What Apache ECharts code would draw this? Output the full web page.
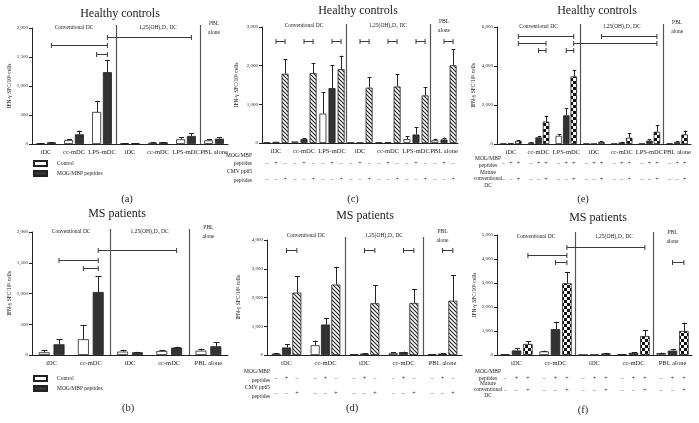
<!DOCTYPE html>
<html><head><meta charset="utf-8">
<script src="https://cdn.jsdelivr.net/npm/echarts@6/dist/echarts.min.js"></script>
<style>html,body{margin:0;padding:0;background:#fff}#c{width:699px;height:423px}</style>
</head><body><div id="c"></div><script>
const FONT = '"Liberation Serif","DejaVu Serif",serif';
const INK = '#222';

// ---------- categories / labels ----------
const catsSeven = ['iDC','cc-mDC','LPS-mDC','iDC','cc-mDC','LPS-mDC','PBL alone'];
const catsFive = ['iDC','cc-mDC','iDC','cc-mDC','PBL alone'];
const groupNames = ['Conventional DC','1,25(OH)₂D₃ DC','PBL\nalone'];
const groupsSeven = [[0,2,0],[3,5,1],[6,6,2]];
const groupsFive = [[0,1,0],[2,3,1],[4,4,2]];
const yName = 'IFN-γ SFC/10⁶ cells';
const legendNames = ['Control','MOG/MBP peptides'];
const signsMogCmv = ['−','+','−'];
const signsCmv = ['−','−','+'];
const signsMogMat = ['−','+','+'];
const signsMature = ['−','−','+'];

// ---------- (a) Healthy controls ----------
const aControl    = [12, 69, 553, 12, 23, 81, 63];
const aControlErr = [16, 81, 743, 15, 27, 115, 81];
const aMog        = [29, 167, 1239, 12, 29, 138, 92];
const aMogErr     = [36, 230, 1452, 16, 34, 184, 121];
const aBrackets   = [[0,1,2,1,1700],[2,0,2,1,1560],[2,1,5,1,1840]];

// ---------- (b) MS patients ----------
const bControl    = [44, 256, 55, 65, 70];
const bControlErr = [76, 490, 87, 82, 104];
const bMog        = [174, 1025, 44, 120, 142];
const bMogErr     = [256, 1280, 52, 136, 207];
const bBrackets   = [[1,1,3,1,1710],[0,1,1,1,1545],[1,0,1,1,1415]];

// ---------- (c) Healthy controls, CMV ----------
const cControl    = [15, 40, 760, 10, 15, 100, 70];
const cControlErr = [null, null, 1310, null, null, 170, 110];
const cMog        = [30, 100, 1420, 10, 20, 220, 90];
const cMogErr     = [null, 120, 2020, null, null, 410, 140];
const cCmv        = [1790, 1810, 1910, 1430, 1460, 1230, 2010];
const cCmvErr     = [2170, 2070, 2260, 1700, 1780, 1440, 2420];
const cBrackets   = [[0,1,0,2,2650],[1,1,1,2,2650],[2,1,2,2,2650],[3,1,3,2,2650],[4,1,4,2,2650],[5,1,5,2,2650],[6,1,6,2,2650]];

// ---------- (d) MS patients, CMV ----------
const dControl    = [50, 340, 30, 70, 30];
const dControlErr = [70, 500, null, 90, null];
const dMog        = [260, 1060, 50, 100, 50];
const dMogErr     = [380, 1290, 60, 120, 60];
const dCmv        = [2170, 2450, 1800, 1810, 1890];
const dCmvErr     = [2740, 3070, 2420, 2300, 2780];
const dBrackets   = [[0,1,0,2,3650],[2,1,2,2,3650],[3,1,3,2,3650],[4,1,4,2,3650]];

// ---------- (e) Healthy controls, mature conventional DC ----------
const eControl    = [20, 70, 420, 20, 20, 20, 30];
const eControlErr = [null, 90, 500, null, null, null, null];
const eMog        = [40, 340, 1470, 10, 80, 170, 90];
const eMogErr     = [null, 420, 1830, null, 120, 250, 130];
const eMature     = [160, 1150, 3470, 100, 320, 630, 490];
const eMatureErr  = [200, 1450, 3790, 150, 540, 950, 690];
const eBrackets   = [[0,2,2,2,5520],[0,2,1,2,5180],[1,1,1,2,4800],[2,1,2,2,4800],[2,2,5,2,5180],[3,2,5,2,5520]];

// ---------- (f) MS patients, mature conventional DC ----------
const fControl    = [30, 150, 10, 40, 80];
const fControlErr = [null, 180, null, null, 100];
const fMog        = [190, 1080, 10, 90, 180];
const fMogErr     = [280, 1390, null, 110, 240];
const fMature     = [460, 2990, 70, 790, 1000];
const fMatureErr  = [570, 3460, 90, 1030, 1350];
const fBrackets   = [[0,2,1,2,4160],[1,1,1,2,3870],[1,2,3,2,4500],[4,1,4,2,3870]];

// ---------- patterns ----------
function hatch(){
  const c = document.createElement('canvas'); c.width = 4; c.height = 4;
  const x = c.getContext('2d');
  x.fillStyle = '#fff'; x.fillRect(0,0,4,4);
  x.strokeStyle = '#222'; x.lineWidth = 1.1;
  x.beginPath();
  x.moveTo(-1,-1); x.lineTo(5,5);
  x.moveTo(-1,3); x.lineTo(1,5);
  x.moveTo(3,-1); x.lineTo(5,1);
  x.stroke();
  return {image: c, repeat: 'repeat'};
}
function checker(){
  const s = 3;
  const c = document.createElement('canvas'); c.width = 2*s; c.height = 2*s;
  const x = c.getContext('2d');
  x.fillStyle = '#fff'; x.fillRect(0,0,2*s,2*s);
  x.fillStyle = '#111'; x.fillRect(0,0,s,s); x.fillRect(s,s,s,s);
  return {image: c, repeat: 'repeat'};
}
const WHITE = '#ffffff', DARK = '#333333';

const option = {animation:false, backgroundColor:'#fff', grid:[], xAxis:[], yAxis:[], series:[], legend:[], graphic:[]};

function off(j, n, w, g){ return (j - (n-1)/2) * w * (1+g); }

function addPanel(k, p){
  option.grid.push({left:p.grid[0], top:p.grid[1], width:p.grid[2], height:p.grid[3]});
  option.xAxis.push({type:'category', gridIndex:k, data:p.cats,
    axisLine:{lineStyle:{color:INK, width:1}},
    axisTick:{alignWithLabel:true, length:3, lineStyle:{color:INK}},
    axisLabel:{fontSize:6.5, fontFamily:FONT, color:INK, margin:5, interval:0}});
  option.yAxis.push({type:'value', gridIndex:k, min:0, max:p.max, interval:p.step,
    axisLine:{show:true, lineStyle:{color:INK}},
    axisTick:{show:true, length:3, lineStyle:{color:INK}},
    splitLine:{show:false},
    axisLabel:{fontSize:5, fontFamily:FONT, color:INK, margin:4},
    name:yName, nameLocation:'middle', nameGap:p.nameGap,
    nameTextStyle:{fontSize:5.5, fontFamily:FONT, color:INK}});
  const n = p.vals.length, w = p.w, g = p.g;
  p.vals.forEach((vals, j) => {
    option.series.push({type:'bar', name:p.names[j], xAxisIndex:k, yAxisIndex:k, data:vals,
      barWidth:w, barGap:(g*100)+'%',
      itemStyle:{color:p.fills[j], borderColor:INK, borderWidth:0.8}, z:2});
  });
  // error bars
  const errData = [];
  p.errs.forEach((errs, j) => errs.forEach((e, c) => { if (e != null) errData.push([c, j, p.vals[j][c], e]); }));
  option.series.push({type:'custom', xAxisIndex:k, yAxisIndex:k, data:errData, encode:{x:0, y:3}, z:3, clip:false, silent:true,
    renderItem:(params, api) => {
      const c = api.value(0), j = api.value(1), v = api.value(2), e = api.value(3);
      const p0 = api.coord([c, v]), p1 = api.coord([c, e]);
      const x = Math.round(p0[0] + off(j, n, w, g)) + 0.5;
      const cap = Math.max(3, w*0.55);
      return {type:'group', children:[
        {type:'line', shape:{x1:x, y1:p0[1], x2:x, y2:p1[1]}, style:{stroke:INK, lineWidth:1}},
        {type:'line', shape:{x1:x-cap/2, y1:Math.round(p1[1])+0.5, x2:x+cap/2, y2:Math.round(p1[1])+0.5}, style:{stroke:INK, lineWidth:1}}
      ]};
    }});
  // significance brackets
  option.series.push({type:'custom', xAxisIndex:k, yAxisIndex:k, data:p.brackets, encode:{x:0, y:4}, z:3, clip:false, silent:true,
    renderItem:(params, api) => {
      const c1 = api.value(0), b1 = api.value(1), c2 = api.value(2), b2 = api.value(3), yv = api.value(4);
      const pa = api.coord([c1, yv]), pb = api.coord([c2, yv]);
      const x1 = pa[0] + off(b1, n, w, g), x2 = pb[0] + off(b2, n, w, g);
      const y = Math.round(pa[1]) + 0.5;
      const st = {stroke:'#3a3a3a', lineWidth:1};
      return {type:'group', children:[
        {type:'line', shape:{x1:x1, y1:y, x2:x2, y2:y}, style:st},
        {type:'line', shape:{x1:x1, y1:y-2.5, x2:x1, y2:y+2.5}, style:st},
        {type:'line', shape:{x1:x2, y1:y-2.5, x2:x2, y2:y+2.5}, style:st}
      ]};
    }});
  // group separators
  option.series.push({type:'custom', xAxisIndex:k, yAxisIndex:k, data:p.seps, encode:{x:0, y:1}, z:1, clip:false, silent:true,
    renderItem:(params, api) => {
      const a = api.coord([api.value(0), 0]), b = api.coord([api.value(1), p.max]);
      const x = Math.round((a[0] + b[0]) / 2) + 0.5;
      return {type:'line', shape:{x1:x, y1:b[1]-3, x2:x, y2:a[1]}, style:{stroke:'#555', lineWidth:1.2}};
    }});
  // group labels
  option.series.push({type:'custom', xAxisIndex:k, yAxisIndex:k, data:p.groups, encode:{x:0, y:1}, z:3, clip:false, silent:true,
    renderItem:(params, api) => {
      const a = api.coord([api.value(0), p.max]), b = api.coord([api.value(1), p.max]);
      const t = groupNames[api.value(2)];
      return {type:'text', x:(a[0]+b[0])/2, y:a[1] + p.groupDy,
        style:{text:t, font:'5.5px ' + FONT, fill:INK, align:'center', verticalAlign:'middle',
          textAlign:'center', textVerticalAlign:'middle', lineHeight:9}};
    }});
  // +/- sign rows
  if (p.signs) {
    const sData = [];
    p.cats.forEach((_, c) => p.signs.forEach((row, r) => row.forEach((_, j) => sData.push([c, j, r]))));
    option.series.push({type:'custom', xAxisIndex:k, yAxisIndex:k, data:sData, encode:{x:0, y:1}, z:3, clip:false, silent:true,
      renderItem:(params, api) => {
        const c = api.value(0), j = api.value(1), r = api.value(2);
        const p0 = api.coord([c, 0]);
        return {type:'text', x:p0[0] + off(j, n, w, g), y:p0[1] + p.signDy[r],
          style:{text:p.signs[r][j], font:'6px ' + FONT, fill:INK, align:'center', verticalAlign:'middle',
            textAlign:'center', textVerticalAlign:'middle'}};
      }});
  }
}

const sepSeven = [[2,3],[5,6]];
const sepFive = [[1,2],[3,4]];

addPanel(0, {grid:[32,28,196,116], cats:catsSeven, max:2000, step:500, nameGap:19,
  vals:[aControl, aMog], errs:[aControlErr, aMogErr], names:legendNames, fills:[WHITE, DARK],
  w:9, g:0.2, brackets:aBrackets, seps:sepSeven, groups:groupsSeven, groupDy:0});
addPanel(1, {grid:[32,232,196,123], cats:catsFive, max:2000, step:500, nameGap:18,
  vals:[bControl, bMog], errs:[bControlErr, bMogErr], names:legendNames, fills:[WHITE, DARK],
  w:11, g:0.35, brackets:bBrackets, seps:sepFive, groups:groupsFive, groupDy:0});
addPanel(2, {grid:[262,27,196,116], cats:catsSeven, max:3000, step:1000, nameGap:22,
  vals:[cControl, cMog, cCmv], errs:[cControlErr, cMogErr, cCmvErr], names:['c-Control','c-MOG','c-CMV'], fills:[WHITE, DARK, hatch()],
  w:7, g:0.3, brackets:cBrackets, seps:sepSeven, groups:groupsSeven, groupDy:-1,
  signs:[signsMogCmv, signsCmv], signDy:[20, 36]});
addPanel(3, {grid:[267,240,195,115], cats:catsFive, max:4000, step:1000, nameGap:25,
  vals:[dControl, dMog, dCmv], errs:[dControlErr, dMogErr, dCmvErr], names:['d-Control','d-MOG','d-CMV'], fills:[WHITE, DARK, hatch()],
  w:9, g:0.15, brackets:dBrackets, seps:sepFive, groups:groupsFive, groupDy:-4,
  signs:[signsMogCmv, signsCmv], signDy:[23, 38]});
addPanel(4, {grid:[497,27,194,117], cats:catsSeven, max:6000, step:2000, nameGap:20,
  vals:[eControl, eMog, eMature], errs:[eControlErr, eMogErr, eMatureErr], names:['e-Control','e-MOG','e-Mature'], fills:[WHITE, DARK, checker()],
  w:6.5, g:0.15, brackets:eBrackets, seps:sepSeven, groups:groupsSeven, groupDy:0,
  signs:[signsMogMat, signsMature], signDy:[19, 35]});
addPanel(5, {grid:[497,235,195,120], cats:catsFive, max:5000, step:1000, nameGap:19,
  vals:[fControl, fMog, fMature], errs:[fControlErr, fMogErr, fMatureErr], names:['f-Control','f-MOG','f-Mature'], fills:[WHITE, DARK, checker()],
  w:9.5, g:0.2, brackets:fBrackets, seps:sepFive, groups:groupsFive, groupDy:2,
  signs:[signsMogMat, signsMature], signDy:[23, 35]});

// legends for (a) and (b)
[[33,160],[33,375]].forEach(pos => option.legend.push({
  left:pos[0], top:pos[1], orient:'vertical', itemWidth:13, itemHeight:5, itemGap:3, padding:0,
  icon:'rect', data:legendNames, selectedMode:false,
  textStyle:{fontSize:5.5, fontFamily:FONT, color:INK, padding:[0,0,0,5]}
}));

// titles, panel letters, row labels
function txt(x, y, t, size, align, lh){
  return {type:'text', x:x, y:y, silent:true, style:{text:t, font:size + 'px ' + FONT, fill:INK,
    align:align || 'center', verticalAlign:'middle', textAlign:align || 'center', textVerticalAlign:'middle', lineHeight:lh || size*1.2}};
}
option.graphic = [
  txt(120,14,'Healthy controls',12), txt(358,11,'Healthy controls',12), txt(597,11,'Healthy controls',12),
  txt(117,214,'MS patients',12), txt(365,216,'MS patients',12), txt(598,218,'MS patients',12),
  txt(127,199,'(a)',10.5), txt(128,408,'(b)',10.5), txt(353,199,'(c)',10.5),
  txt(352,408,'(d)',10.5), txt(583,199,'(e)',10.5), txt(583,410,'(f)',10.5),
  txt(252,160,'MOG/MBP\npeptides',5.5,'right',8), txt(252,176.5,'CMV pp65\npeptides',5.5,'right',9),
  txt(270,376.5,'MOG/MBP\npeptides',5.5,'right',9), txt(270,392.5,'CMV pp65\npeptides',5.5,'right',9),
  txt(488,162.5,'MOG/MBP\npeptides',5.5,'center',7), txt(488,179,'Mature\nconventional\nDC',5.5,'center',6.5),
  txt(488,375,'MOG/MBP\npeptides',5.5,'center',6.5), txt(488,390,'Mature\nconventional\nDC',5.5,'center',6)
];

const chart = echarts.init(document.getElementById('c'), null, {renderer:'canvas'});
chart.setOption(option);
</script></body></html>
